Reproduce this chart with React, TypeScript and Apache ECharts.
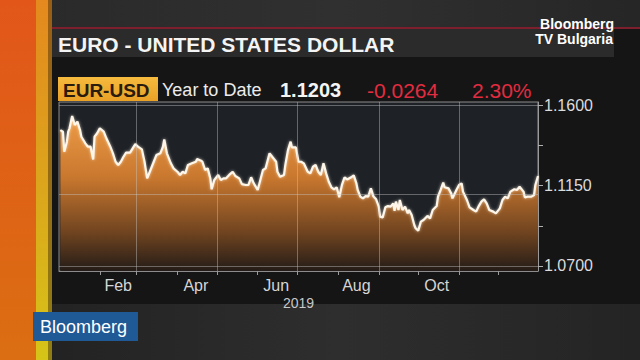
import { useEffect, useRef } from 'react';
import * as echarts from 'echarts';

const dates = [
  '2019-01-02','2019-01-04','2019-01-05','2019-01-07','2019-01-08','2019-01-09','2019-01-11','2019-01-13','2019-01-15','2019-01-17',
  '2019-01-18','2019-01-21','2019-01-23','2019-01-25','2019-01-27','2019-01-28','2019-01-30','2019-02-01','2019-02-04','2019-02-06',
  '2019-02-09','2019-02-11','2019-02-13','2019-02-15','2019-02-17','2019-02-19','2019-02-21','2019-02-24','2019-02-26','2019-02-28',
  '2019-03-02','2019-03-05','2019-03-07','2019-03-09','2019-03-11','2019-03-14','2019-03-16','2019-03-19','2019-03-21','2019-03-22',
  '2019-03-24','2019-03-27','2019-03-29','2019-04-01','2019-04-03','2019-04-05','2019-04-07','2019-04-09','2019-04-12','2019-04-15',
  '2019-04-16','2019-04-19','2019-04-20','2019-04-22','2019-04-24','2019-04-26','2019-04-27','2019-04-29','2019-05-02','2019-05-04',
  '2019-05-06','2019-05-08','2019-05-11','2019-05-13','2019-05-15','2019-05-18','2019-05-20','2019-05-23','2019-05-25','2019-05-27',
  '2019-05-29','2019-06-01','2019-06-03','2019-06-05','2019-06-07','2019-06-10','2019-06-12','2019-06-15','2019-06-16','2019-06-18',
  '2019-06-21','2019-06-22','2019-06-24','2019-06-26','2019-06-27','2019-06-30','2019-07-02','2019-07-04','2019-07-06','2019-07-09',
  '2019-07-11','2019-07-13','2019-07-15','2019-07-17','2019-07-19','2019-07-21','2019-07-23','2019-07-25','2019-07-27','2019-07-29',
  '2019-07-31','2019-08-02','2019-08-04','2019-08-06','2019-08-08','2019-08-11','2019-08-13','2019-08-15','2019-08-16','2019-08-18',
  '2019-08-20','2019-08-22','2019-08-24','2019-08-26','2019-08-28','2019-08-30','2019-09-01','2019-09-02','2019-09-04','2019-09-06',
  '2019-09-08','2019-09-10','2019-09-12','2019-09-13','2019-09-14','2019-09-16','2019-09-17','2019-09-19','2019-09-21','2019-09-23',
  '2019-09-24','2019-09-26','2019-09-28','2019-09-29','2019-10-01','2019-10-03','2019-10-05','2019-10-08','2019-10-10','2019-10-12',
  '2019-10-15','2019-10-16','2019-10-18','2019-10-20','2019-10-21','2019-10-24','2019-10-26','2019-10-27','2019-10-30','2019-11-01',
  '2019-11-03','2019-11-04','2019-11-07','2019-11-09','2019-11-12','2019-11-14','2019-11-16','2019-11-18','2019-11-20','2019-11-22',
  '2019-11-24','2019-11-27','2019-11-29','2019-12-02','2019-12-04','2019-12-06','2019-12-08','2019-12-10','2019-12-13','2019-12-15',
  '2019-12-17','2019-12-20','2019-12-21','2019-12-23','2019-12-26','2019-12-28','2019-12-29','2019-12-31'
];

const values = [
  1.1460,1.1451,1.1339,1.1395,1.1451,1.1470,1.1539,1.1488,1.1507,1.1460,
  1.1423,1.1386,1.1367,1.1367,1.1296,1.1423,1.1442,1.1470,1.1451,1.1414,
  1.1367,1.1330,1.1283,1.1265,1.1283,1.1311,1.1334,1.1334,1.1358,1.1382,
  1.1367,1.1352,1.1283,1.1190,1.1227,1.1283,1.1320,1.1330,1.1367,1.1408,
  1.1330,1.1274,1.1246,1.1227,1.1209,1.1227,1.1218,1.1265,1.1274,1.1283,
  1.1298,1.1289,1.1283,1.1237,1.1246,1.1190,1.1129,1.1181,1.1209,1.1181,
  1.1190,1.1190,1.1214,1.1227,1.1203,1.1190,1.1158,1.1153,1.1153,1.1196,
  1.1162,1.1125,1.1181,1.1237,1.1246,1.1330,1.1311,1.1283,1.1227,1.1199,
  1.1209,1.1265,1.1348,1.1395,1.1363,1.1363,1.1283,1.1283,1.1274,1.1227,
  1.1218,1.1255,1.1265,1.1227,1.1209,1.1274,1.1218,1.1171,1.1140,1.1129,
  1.1140,1.1084,1.1153,1.1196,1.1184,1.1196,1.1207,1.1162,1.1125,1.1088,
  1.1078,1.1091,1.1088,1.1134,1.1088,1.1073,1.1032,1.0976,1.0972,1.1028,
  1.1035,1.1032,1.1050,1.1009,1.1060,1.1013,1.1069,1.1013,1.1032,1.0994,
  1.1013,1.0985,1.0929,1.0911,1.0898,1.0948,1.0957,1.0980,1.0966,1.1013,
  1.1035,1.1088,1.1125,1.1166,1.1140,1.1134,1.1106,1.1078,1.1125,1.1153,
  1.1162,1.1116,1.1069,1.1028,1.1013,1.1004,1.1035,1.1060,1.1073,1.1050,
  1.1013,1.1004,1.0994,1.1022,1.1069,1.1088,1.1078,1.1116,1.1129,1.1125,
  1.1143,1.1116,1.1084,1.1088,1.1088,1.1097,1.1153,1.1203
];

const yTickValues = [1.07, 1.0925, 1.115, 1.1375, 1.16];
const yLabelValues = [1.07, 1.115, 1.16];
const yGridValues = [1.07, 1.115, 1.16];
const xStart = '2019-01-01';
const xEnd = '2019-12-31';
const monthTicks = ['2019-02-01','2019-03-01','2019-04-01','2019-05-01','2019-06-01','2019-07-01','2019-08-01','2019-09-01','2019-10-01','2019-11-01','2019-12-01'];
const monthLabelDates = ['2019-02-15','2019-04-15','2019-06-15','2019-08-15','2019-10-15'];
const xGridDates = ['2019-03-01','2019-05-01','2019-07-01','2019-09-01','2019-11-01'];
const monthNames = ['Jan','Feb','Mar','Apr','May','Jun','Jul','Aug','Sep','Oct','Nov','Dec'];
const yearLabel = '2019';

const titleText = 'EURO - UNITED STATES DOLLAR';
const tickerText = 'EUR-USD';
const periodText = 'Year to Date';
const lastText = '1.1203';
const changeText = '-0.0264';
const pctText = '2.30%';

const FONT = '"Liberation Sans", Arial, sans-serif';

const ts = (s: string) => {
  const [y, m, d] = s.split('-').map(Number);
  return new Date(y, m - 1, d).getTime();
};

export default function App() {
  const ref = useRef<HTMLDivElement>(null);
  useEffect(() => {
    if (!ref.current) return;
    const chart = echarts.init(ref.current, undefined, { renderer: 'svg' });
    const lin = (x1: number, y1: number, x2: number, y2: number, stops: [number, string][]) =>
      new echarts.graphic.LinearGradient(x1, y1, x2, y2, stops.map(([offset, color]) => ({ offset, color })));

    chart.setOption({
      animation: false,
      backgroundColor: '#151515',
      grid: {
        left: 59, right: 102, top: 102, bottom: 89,
        show: true, backgroundColor: '#1e2227', borderColor: '#8c8c8c', borderWidth: 1,
      },
      xAxis: {
        type: 'value',
        min: ts(xStart),
        max: ts(xEnd),
        name: yearLabel,
        nameLocation: 'middle',
        nameGap: 25,
        nameTextStyle: { color: '#c8c8c8', fontSize: 14, fontFamily: FONT },
        axisLine: { show: true, lineStyle: { color: '#8c8c8c' } },
        axisTick: { show: true, inside: false, length: 4, customValues: monthTicks.map(ts), lineStyle: { color: '#9a9a9a' } },
        axisLabel: {
          customValues: monthLabelDates.map(ts),
          formatter: (v: number) => monthNames[new Date(v).getMonth()],
          color: '#d6d6d6', fontSize: 16, fontFamily: FONT, margin: 6,
        },
        splitLine: { show: false },
      },
      yAxis: {
        type: 'value',
        position: 'right',
        min: 1.0672,
        max: 1.1617,
        axisLine: { show: true, lineStyle: { color: '#9a9a9a' } },
        axisTick: { show: true, inside: false, length: 5, customValues: yTickValues, lineStyle: { color: '#b0b0b0' } },
        axisLabel: {
          customValues: yLabelValues,
          formatter: (v: number) => v.toFixed(4),
          color: '#dcdcdc', fontSize: 16, fontFamily: FONT, margin: 6,
        },
        splitLine: { show: false },
      },
      series: [
        {
          type: 'line',
          data: dates.map((d, i) => [ts(d), values[i]]),
          symbol: 'none',
          lineStyle: { color: '#fff6ea', width: 2.2, shadowColor: 'rgba(255,240,220,0.7)', shadowBlur: 3 },
          areaStyle: {
            color: lin(0, 0, 0, 1, [[0, '#ee9c46'], [0.4, '#c8772e'], [0.75, '#704420'], [1, '#241c17']]),
            opacity: 1,
          },
          markLine: {
            silent: true,
            symbol: 'none',
            label: { show: false },
            lineStyle: { color: 'rgba(200,200,200,0.42)', width: 1, type: 'solid' },
            data: [
              ...xGridDates.map((d) => ({ xAxis: ts(d) })),
              ...yGridValues.map((v) => ({ yAxis: v })),
            ],
          },
        },
      ],
      graphic: [
        { type: 'rect', shape: { x: 36, y: 0, width: 604, height: 27 }, style: { fill: lin(0, 0, 1, 0, [[0, '#2a2a2a'], [0.5, '#303030'], [1, '#262626']]) }, silent: true },
        { type: 'rect', shape: { x: 52, y: 29, width: 562, height: 28 }, style: { fill: '#2b2b2b' }, silent: true },
        { type: 'rect', shape: { x: 52, y: 27, width: 588, height: 2 }, style: { fill: '#7d1f2c' }, silent: true },
        { type: 'rect', shape: { x: 36, y: 304, width: 604, height: 56 }, style: { fill: lin(0, 0, 1, 0, [[0, '#222222'], [0.5, '#2e2e2e'], [1, '#242424']]) }, silent: true },
        { type: 'rect', shape: { x: 0, y: 0, width: 36, height: 360 }, style: { fill: lin(0, 0, 0, 1, [[0, '#e2561a'], [1, '#db6e12']]) }, silent: true },
        { type: 'rect', shape: { x: 36, y: 0, width: 16, height: 360 }, style: { fill: lin(0, 0, 0, 1, [[0, '#e4891e'], [0.5, '#dca41c'], [1, '#d6c418']]) }, silent: true },
        { type: 'rect', shape: { x: 48, y: 0, width: 4, height: 360 }, style: { fill: 'rgba(60,40,10,0.45)' }, silent: true },
        {
          type: 'text', silent: true,
          style: { text: titleText, x: 58, y: 44, fill: '#f4f4f4', font: `bold 21px ${FONT}`, verticalAlign: 'middle', textVerticalAlign: 'middle' },
        },
        {
          type: 'text', silent: true,
          style: { text: 'Bloomberg', x: 614, y: 23.5, fill: '#ffffff', font: `bold 14px ${FONT}`, align: 'right', textAlign: 'right', verticalAlign: 'middle', textVerticalAlign: 'middle' },
        },
        {
          type: 'text', silent: true,
          style: { text: 'TV Bulgaria', x: 613, y: 38.5, fill: '#ffffff', font: `bold 14px ${FONT}`, align: 'right', textAlign: 'right', verticalAlign: 'middle', textVerticalAlign: 'middle' },
        },
        { type: 'rect', shape: { x: 58, y: 77, width: 100, height: 24 }, style: { fill: lin(0, 0, 0, 1, [[0, '#f6bb3e'], [1, '#e9a126']]) }, silent: true },
        {
          type: 'text', silent: true,
          style: { text: tickerText, x: 63, y: 90, fill: '#2a1c0c', font: `bold 19px ${FONT}`, verticalAlign: 'middle', textVerticalAlign: 'middle' },
        },
        {
          type: 'text', silent: true,
          style: { text: periodText, x: 162, y: 90, fill: '#ececec', font: `18px ${FONT}`, verticalAlign: 'middle', textVerticalAlign: 'middle' },
        },
        {
          type: 'text', silent: true,
          style: { text: lastText, x: 280, y: 90, fill: '#f4f4f4', font: `bold 20px ${FONT}`, verticalAlign: 'middle', textVerticalAlign: 'middle' },
        },
        {
          type: 'text', silent: true,
          style: { text: changeText, x: 367, y: 90, fill: '#e22c40', font: `21px ${FONT}`, verticalAlign: 'middle', textVerticalAlign: 'middle' },
        },
        {
          type: 'text', silent: true,
          style: { text: pctText, x: 472, y: 90, fill: '#e22c40', font: `21px ${FONT}`, verticalAlign: 'middle', textVerticalAlign: 'middle' },
        },
        { type: 'rect', shape: { x: 33, y: 312, width: 105, height: 29 }, style: { fill: '#1f5a96' }, silent: true },
        {
          type: 'text', silent: true,
          style: { text: 'Bloomberg', x: 40, y: 327, fill: '#ffffff', font: `18px ${FONT}`, verticalAlign: 'middle', textVerticalAlign: 'middle' },
        },
      ],
    });
    return () => chart.dispose();
  }, []);
  return <div ref={ref} style={{ position: 'fixed', left: 0, top: 0, width: 640, height: 360 }} />;
}
